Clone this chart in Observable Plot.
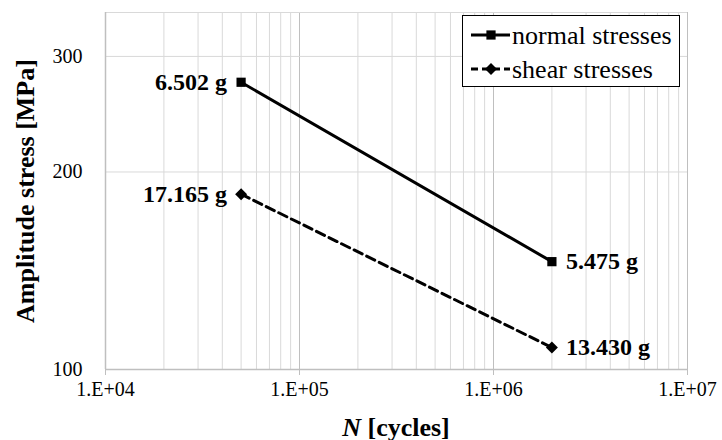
<!DOCTYPE html>
<html>
<head>
<meta charset="utf-8">
<script src="https://cdn.jsdelivr.net/npm/d3@7"></script>
<script src="https://cdn.jsdelivr.net/npm/@observablehq/plot@0.6"></script>
<style>
  html, body { margin: 0; padding: 0; background: white; }
  #chart svg { display: block; }
</style>
</head>
<body>
<div id="chart"></div>
<script>
// ---- data ----
const cycles = [5e4, 2e6];
const normalStress = [274, 146];
const shearStress = [185, 108];
const normalLabels = ["6.502 g", "5.475 g"];
const shearLabels = ["17.165 g", "13.430 g"];
const seriesNames = ["normal stresses", "shear stresses"];

const xTicks = [1e4, 1e5, 1e6, 1e7];
const xTickLabels = ["1.E+04", "1.E+05", "1.E+06", "1.E+07"];
const xMinor = [2e4,3e4,4e4,5e4,6e4,7e4,8e4,9e4,2e5,3e5,4e5,5e5,6e5,7e5,8e5,9e5,2e6,3e6,4e6,5e6,6e6,7e6,8e6,9e6];
const yTicks = [100, 200, 300];
const yMax = 350;

// ---- build table ----
const normal = cycles.map((c, i) => ({x: c, y: normalStress[i], label: normalLabels[i], idx: i}));
const shear = cycles.map((c, i) => ({x: c, y: shearStress[i], label: shearLabels[i], idx: i}));

const fontFam = "'Liberation Serif', 'Times New Roman', serif";
const gridMinor = "#d9d9d9";
const gridMajor = "#bfbfbf";

const plot = Plot.plot({
  width: 722,
  height: 440,
  marginLeft: 105,
  marginRight: 35,
  marginTop: 12,
  marginBottom: 71,
  style: {fontFamily: fontFam, background: "white", color: "black", overflow: "visible"},
  x: {type: "log", domain: [1e4, 1e7]},
  y: {type: "log", domain: [100, yMax]},
  marks: [
    Plot.ruleX(xMinor, {stroke: gridMinor, strokeWidth: 1}),
    Plot.ruleX(xTicks, {stroke: gridMajor, strokeWidth: 1}),
    Plot.ruleY(yTicks, {stroke: gridMinor, strokeWidth: 1}),
    Plot.ruleY([yMax], {stroke: gridMinor, strokeWidth: 1}),
    Plot.ruleX([1e4], {stroke: gridMajor, strokeWidth: 1.5}),
    Plot.ruleY([100], {stroke: gridMajor, strokeWidth: 1.5}),
    Plot.axisX({ticks: xTicks, tickFormat: d => xTickLabels[xTicks.indexOf(d)], tickSize: 6, tickPadding: 6,
      stroke: gridMajor, fontSize: 20, fill: "black", label: null}),
    Plot.axisY({ticks: yTicks, tickFormat: d => String(d), tickSize: 0, tickPadding: 23,
      fontSize: 20, fill: "black", label: null}),
    Plot.line(normal, {x: "x", y: "y", stroke: "black", strokeWidth: 3}),
    Plot.line(shear, {x: "x", y: "y", stroke: "black", strokeWidth: 3, strokeDasharray: "9,5"}),
    Plot.dot(normal, {x: "x", y: "y", symbol: "square", r: 5.2, fill: "black", stroke: null}),
    Plot.dot(shear, {x: "x", y: "y", symbol: "diamond2", r: 5.4, fill: "black", stroke: null}),
    Plot.text(normal.filter(d => d.idx === 0), {x: "x", y: "y", text: "label", textAnchor: "end", dx: -14,
      fontSize: 24, fontWeight: "bold", fill: "black"}),
    Plot.text(shear.filter(d => d.idx === 0), {x: "x", y: "y", text: "label", textAnchor: "end", dx: -14,
      fontSize: 24, fontWeight: "bold", fill: "black"}),
    Plot.text(normal.filter(d => d.idx === 1), {x: "x", y: "y", text: "label", textAnchor: "start", dx: 14,
      fontSize: 24, fontWeight: "bold", fill: "black"}),
    Plot.text(shear.filter(d => d.idx === 1), {x: "x", y: "y", text: "label", textAnchor: "start", dx: 14,
      fontSize: 24, fontWeight: "bold", fill: "black"})
  ]
});

document.getElementById("chart").appendChild(plot);

const svg = d3.select(plot);

// y-axis title
svg.append("text")
  .attr("transform", "translate(25,191) rotate(-90)")
  .attr("text-anchor", "middle")
  .attr("dominant-baseline", "central")
  .attr("font-family", fontFam)
  .attr("font-size", 26)
  .attr("font-weight", "bold")
  .attr("fill", "black")
  .text("Amplitude stress [MPa]");

// x-axis title
const xt = svg.append("text")
  .attr("x", 396)
  .attr("y", 427)
  .attr("text-anchor", "middle")
  .attr("dominant-baseline", "central")
  .attr("font-family", fontFam)
  .attr("font-size", 26)
  .attr("font-weight", "bold")
  .attr("fill", "black");
xt.append("tspan").attr("font-style", "italic").text("N");
xt.append("tspan").text(" [cycles]");

// legend
const lg = svg.append("g").attr("text-anchor", "start");
lg.append("rect").attr("x", 462.5).attr("y", 15.5).attr("width", 217).attr("height", 71)
  .attr("fill", "white").attr("stroke", "black").attr("stroke-width", 1);
const rowsY = [35, 69];
rowsY.forEach((yy, i) => {
  lg.append("line").attr("x1", 471).attr("x2", 510).attr("y1", yy).attr("y2", yy)
    .attr("stroke", "black").attr("stroke-width", 3)
    .attr("stroke-dasharray", i === 1 ? "7,4" : null);
  const sym = i === 0 ? d3.symbolSquare : d3.symbolDiamond2;
  lg.append("path").attr("d", d3.symbol(sym, Math.PI * (i === 0 ? 5.2 : 5.4) ** 2)())
    .attr("transform", `translate(491,${yy})`).attr("fill", "black");
  lg.append("text").attr("x", 512).attr("y", yy)
    .attr("text-anchor", "start")
    .attr("dominant-baseline", "central")
    .attr("font-family", fontFam).attr("font-size", 26).attr("fill", "black")
    .text(seriesNames[i]);
});
</script>
</body>
</html>
